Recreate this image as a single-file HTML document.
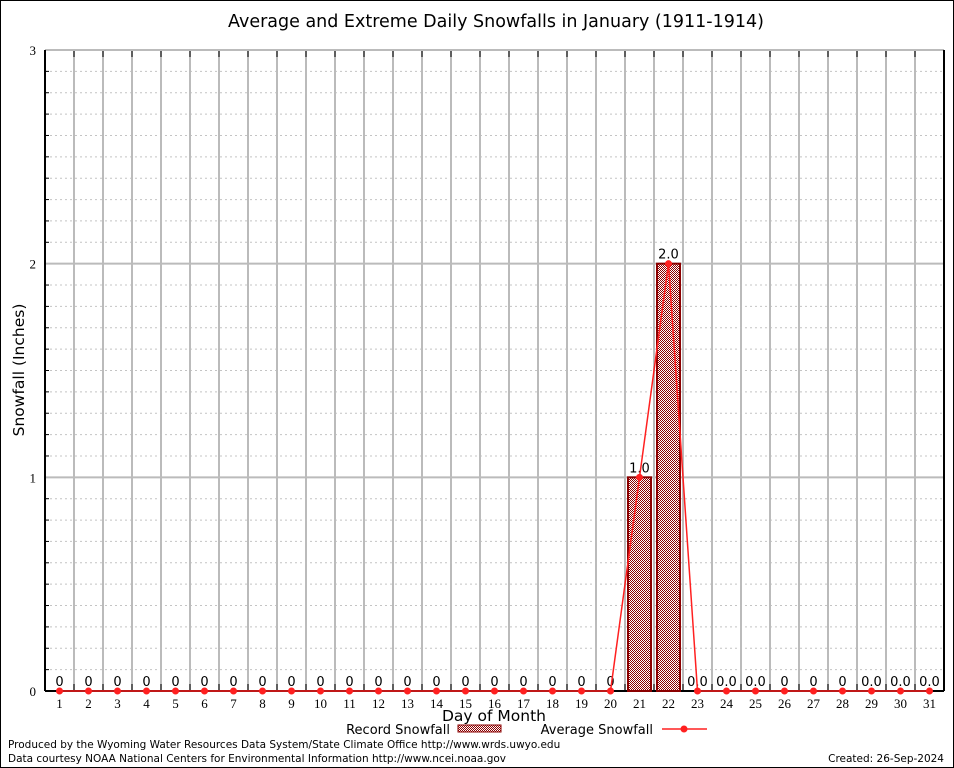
<!DOCTYPE html>
<html><head><meta charset="utf-8">
<style>
html,body{margin:0;padding:0;background:#fff;}
svg{display:block;}
text{font-family:"DejaVu Sans","Liberation Sans",sans-serif;}
.tick{font-family:"Liberation Serif","DejaVu Serif",serif;font-size:13px;}
</style></head>
<body>
<svg id="chart" width="954" height="768" viewBox="0 0 954 768" xmlns="http://www.w3.org/2000/svg">
<defs>
<pattern id="chk" width="2" height="2" patternUnits="userSpaceOnUse">
<rect width="2" height="2" fill="#fff"/>
<rect width="1" height="1" fill="#8b0000"/>
<rect x="1" y="1" width="1" height="1" fill="#8b0000"/>
</pattern>
</defs>
<rect x="0.5" y="0.5" width="953" height="767" fill="#fff" stroke="#000"/>
<text x="496" y="27" font-size="17.5" text-anchor="middle">Average and Extreme Daily Snowfalls in January (1911-1914)</text>
<g id="grid"></g>
<g id="marks"></g>
<text transform="translate(24,370) rotate(-90)" font-size="15.5" text-anchor="middle">Snowfall (Inches)</text>
<text x="494" y="721" font-size="15.5" text-anchor="middle">Day of Month</text>
<g>
<text x="450" y="734" font-size="13" text-anchor="end">Record Snowfall</text>
<rect x="458" y="725" width="43" height="7" fill="url(#chk)" stroke="#8b0000"/>
</g>
<g>
<text x="653" y="734" font-size="13" text-anchor="end">Average Snowfall</text>
<line x1="662" y1="729" x2="707" y2="729" stroke="#ff2020" stroke-width="1.5"/>
<circle cx="684" cy="729" r="3.5" fill="#ff2020"/>
</g>
<text x="8" y="748" font-size="10.5">Produced by the Wyoming Water Resources Data System/State Climate Office http://www.wrds.uwyo.edu</text>
<text x="8" y="762" font-size="10.5">Data courtesy NOAA National Centers for Environmental Information http://www.ncei.noaa.gov</text>
<text x="944" y="762" font-size="10.5" text-anchor="end">Created: 26-Sep-2024</text>
</svg>
<script>
const days = [1,2,3,4,5,6,7,8,9,10,11,12,13,14,15,16,17,18,19,20,21,22,23,24,25,26,27,28,29,30,31];
const recordValues = [0,0,0,0,0,0,0,0,0,0,0,0,0,0,0,0,0,0,0,0,1.0,2.0,0,0,0,0,0,0,0,0,0];
const recordLabels = ["0","0","0","0","0","0","0","0","0","0","0","0","0","0","0","0","0","0","0","0","1.0","2.0","0.0","0.0","0.0","0","0","0","0.0","0.0","0.0"];
const averageValues = [0,0,0,0,0,0,0,0,0,0,0,0,0,0,0,0,0,0,0,0,1.0,2.0,0,0,0,0,0,0,0,0,0];
const yTicks = [0,1,2,3];

const L=45,R=944,T=50,B=691,yMax=3;
const step=(R-L)/31;
const x=d=>L+step*(d-0.5);
const y=v=>B-(v/yMax)*(B-T);
const NS="http://www.w3.org/2000/svg";
const grid=document.getElementById('grid'), marks=document.getElementById('marks');
function mk(tag,attrs,parent){const e=document.createElementNS(NS,tag);for(const k in attrs)e.setAttribute(k,attrs[k]);parent.appendChild(e);return e;}

for(let i=1;i<yMax*10;i++){ if(i%10===0) continue;
  const yy=y(i/10);
  const l=mk('line',{x1:L,x2:R,y1:yy,y2:yy,stroke:'#c4c4c4','stroke-dasharray':'2,3'},grid);
  
  
  const t=mk('line',{x1:L,x2:L+4,y1:yy,y2:yy,stroke:'#000'},grid);
  
  
}
for(let k=1;k<31;k++){
  const xx=L+step*k;
  const l=mk('line',{x1:xx,x2:xx,y1:T,y2:B,stroke:'#bbb','stroke-width':2},grid);
  
  
  mk('line',{x1:xx,x2:xx,y1:T,y2:T+7,stroke:'#000'},grid);
  mk('line',{x1:xx,x2:xx,y1:B,y2:B-7,stroke:'#000'},grid);
}
yTicks.forEach(v=>{
  const yy=y(v);
  const l=mk('line',{x1:L,x2:R,y1:yy,y2:yy,stroke:v===0?'#000':'#bbb','stroke-width':2},grid);
  
  
  const t=mk('text',{x:L-9,y:yy+5,'text-anchor':'end',class:'tick'},grid);
  t.textContent=v;
  
  
});
mk('line',{x1:L,x2:L,y1:T,y2:B,stroke:'#000','stroke-width':2},grid);
mk('line',{x1:R,x2:R,y1:T,y2:B,stroke:'#000','stroke-width':2},grid);
days.forEach(d=>{
  const t=mk('text',{x:x(d),y:B+17,'text-anchor':'middle',class:'tick'},grid);
  t.textContent=d;
  
  
});
days.forEach((d,i)=>{
  const v=recordValues[i];
  if(v>0){
    const r=mk('rect',{x:x(d)-11.5,y:y(v),width:23,height:B-y(v),fill:'url(#chk)',stroke:'#8b0000','stroke-width':2},marks);
    
    
  }
  const t=mk('text',{x:x(d),y:y(v)-5,'text-anchor':'middle','font-size':13},marks);
  t.textContent=recordLabels[i];
  
  
});
const pts=days.map((d,i)=>x(d)+','+y(averageValues[i])).join(' ');
const pl=mk('polyline',{points:pts,fill:'none',stroke:'#ff2020','stroke-width':1.5},marks);


days.forEach((d,i)=>{
  const c=mk('circle',{cx:x(d),cy:y(averageValues[i]),r:3.5,fill:'#ff2020'},marks);
  
  
});
</script>
</body></html>
